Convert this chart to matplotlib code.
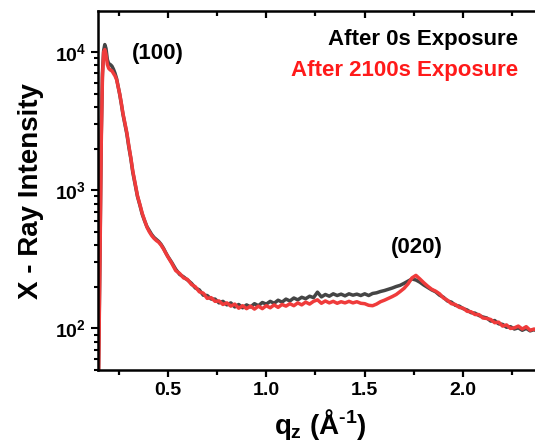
"""GIWAXS out-of-plane line cuts before and after beam exposure."""

import matplotlib.pyplot as plt
from matplotlib.ticker import LogLocator, MultipleLocator

plt.rcParams["font.family"] = ["Liberation Sans", "DejaVu Sans"]
plt.rcParams["font.weight"] = "bold"
plt.rcParams["mathtext.fontset"] = "custom"
plt.rcParams["mathtext.rm"] = "Liberation Sans:bold"
plt.rcParams["mathtext.bf"] = "Liberation Sans:bold"
plt.rcParams["mathtext.it"] = "Liberation Sans:bold"

# q_z sampling shared by both cuts (1/Angstrom)
q = [
    0.148, 0.156, 0.162, 0.168, 0.174, 0.180, 0.186, 0.193, 0.200, 0.208,
    0.216, 0.224, 0.232, 0.240, 0.248, 0.256, 0.264, 0.272, 0.282, 0.292,
    0.302, 0.312, 0.322, 0.334, 0.346, 0.358, 0.370, 0.382, 0.394, 0.406,
    0.418, 0.430, 0.442, 0.454, 0.466, 0.478, 0.490,
    0.50, 0.52, 0.54, 0.56, 0.58, 0.60, 0.62, 0.64, 0.66, 0.68,
    0.70, 0.72, 0.74, 0.76, 0.78, 0.80, 0.82, 0.84, 0.86, 0.88,
    0.90, 0.92, 0.94, 0.96, 0.98, 1.00, 1.02, 1.04, 1.06, 1.08,
    1.10, 1.12, 1.14, 1.16, 1.18, 1.20, 1.22, 1.24, 1.26, 1.28,
    1.30, 1.32, 1.34, 1.36, 1.38, 1.40, 1.42, 1.44, 1.46, 1.48,
    1.50, 1.52, 1.54, 1.56, 1.58, 1.60, 1.62, 1.64, 1.66, 1.68,
    1.70, 1.72, 1.74, 1.76, 1.78, 1.80, 1.82, 1.84, 1.86, 1.88,
    1.90, 1.92, 1.94, 1.96, 1.98, 2.00, 2.02, 2.04, 2.06, 2.08,
    2.10, 2.12, 2.14, 2.16, 2.18, 2.20, 2.22, 2.24, 2.26, 2.28,
    2.30, 2.32, 2.34, 2.36, 2.38, 2.40,
]

intensity_0s = [
    45, 400, 2500, 7000, 10200, 11300, 10600, 8800, 8200, 8100,
    7900, 7500, 7000, 6400, 5600, 4900, 4200, 3550, 3000, 2550,
    2050, 1700, 1350, 1100, 900, 780, 670, 600, 545, 510,
    478, 455, 440, 425, 405, 380, 352,
    332, 300, 268, 246, 236, 224, 212, 196, 190, 174,
    173, 163, 163, 153, 157, 148, 153, 143, 149, 141,
    148, 143, 151, 146, 154, 150, 157, 152, 160, 155,
    163, 158, 166, 161, 168, 164, 171, 167, 183, 169,
    176, 171, 178, 173, 177, 172, 178, 174, 177, 173,
    178, 173, 179, 181, 185, 188, 192, 196, 201, 205,
    212, 220, 228, 224, 216, 206, 198, 190, 184, 174,
    168, 158, 155, 147, 145, 139, 136, 130, 129, 124,
    121, 119, 113, 114, 108, 107, 102, 103, 99, 101,
    97, 100, 96, 98, 95, 96,
]

intensity_2100s = [
    40, 350, 2200, 6500, 10000, 10400, 9600, 8100, 7600, 7400,
    7300, 7000, 6700, 6300, 5600, 4950, 4250, 3600, 3050, 2600,
    2100, 1720, 1380, 1120, 910, 790, 680, 605, 540, 500,
    470, 448, 432, 420, 400, 376, 350,
    330, 296, 262, 250, 232, 226, 208, 200, 184, 180,
    165, 167, 157, 158, 149, 153, 145, 150, 140, 146,
    139, 145, 138, 145, 139, 146, 141, 148, 142, 149,
    145, 151, 146, 153, 148, 155, 150, 157, 161, 152,
    158, 153, 157, 152, 156, 153, 157, 153, 156, 152,
    151, 147, 146, 150, 156, 160, 165, 170, 176, 185,
    195, 210, 232, 242, 228, 214, 202, 192, 186, 178,
    166, 160, 151, 149, 142, 140, 133, 132, 126, 126,
    119, 118, 116, 110, 111, 104, 106, 100, 101, 104,
    99, 103, 97, 99, 96, 94,
]

series = [
    ("After 0s Exposure", intensity_0s, "#454545"),
    ("After 2100s Exposure", intensity_2100s, "#ef3b3b"),
]

fig = plt.figure(figsize=(5.35, 4.48), dpi=100)
ax = fig.add_axes([0.183, 0.174, 0.830, 0.801])

for label, values, color in series:
    ax.plot(q, values, color=color, lw=2.5, label=label)

ax.set_yscale("log")
ax.set_xlim(0.145, 2.4)
ax.set_ylim(50, 19700)

ax.xaxis.set_major_locator(MultipleLocator(0.5))
ax.xaxis.set_minor_locator(MultipleLocator(0.25))
ax.yaxis.set_major_locator(LogLocator(base=10))
ax.yaxis.set_minor_locator(LogLocator(base=10, subs=range(2, 10)))

for side in ["left", "bottom", "top"]:
    ax.spines[side].set_linewidth(1.8)
ax.spines["right"].set_visible(False)

ax.tick_params(axis="x", which="both", direction="out", width=1.6,
               labelsize=14, top=True)
ax.tick_params(axis="x", which="major", length=5)
ax.tick_params(axis="x", which="minor", length=3.5)
ax.tick_params(axis="y", which="both", direction="out", width=1.5,
               labelsize=14, right=False)
ax.tick_params(axis="y", which="major", length=5)
ax.tick_params(axis="y", which="minor", length=3)
# ticks on the top spine point into the frame
for tick in ax.xaxis.get_major_ticks() + ax.xaxis.get_minor_ticks():
    tick.tick2line.set_marker(3)

ax.set_xlabel(r"$q_z$ (Å$^{\text{-}1}$)", fontsize=20, fontweight="bold",
              labelpad=6)
ax.set_ylabel("X - Ray Intensity", fontsize=20, fontweight="bold", labelpad=8)

ax.text(0.449, 9700, "(100)", fontsize=16, fontweight="bold",
        ha="center", va="center")
ax.text(1.764, 383, "(020)", fontsize=16, fontweight="bold",
        ha="center", va="center")

ax.legend(loc="upper right", bbox_to_anchor=(518 / 535, 0.935),
          bbox_transform=fig.transFigure, frameon=False, handlelength=0,
          handletextpad=0, markerfirst=False, labelcolor="linecolor",
          prop={"size": 16, "weight": "bold"}, labelspacing=0.45,
          borderpad=0, borderaxespad=0)
for text in ax.get_legend().get_texts():
    if text.get_text().startswith("After 2100"):
        text.set_color("#ff1a1a")
    else:
        text.set_color("black")

fig.savefig("out.png", dpi=100)
